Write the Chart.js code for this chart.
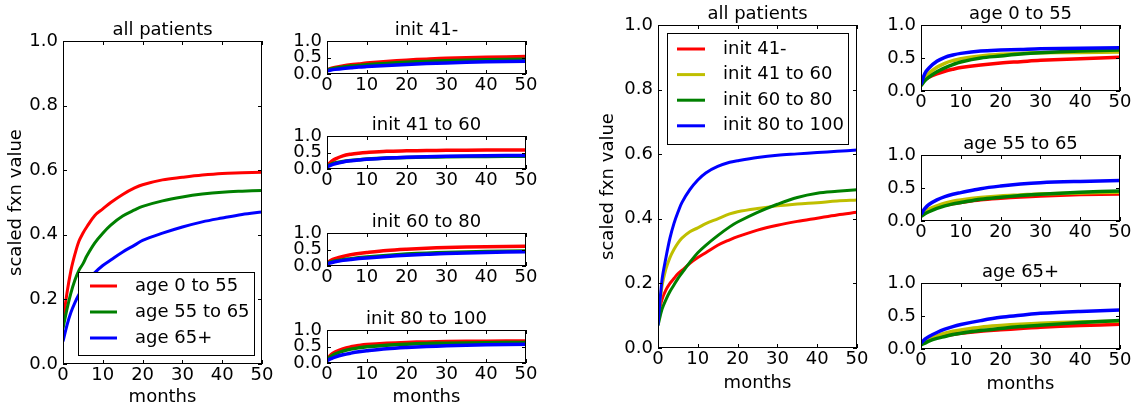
<!DOCTYPE html>
<html>
<head>
<meta charset="utf-8">
<script src="https://cdn.jsdelivr.net/npm/chart.js@4.4.1/dist/chart.umd.min.js"></script>
<style>
  html, body { margin: 0; padding: 0; background: #fff; }
  #fig { position: relative; width: 1134px; height: 408px; overflow: hidden; background: #fff; }
  #fig canvas { position: absolute; }
</style>
</head>
<body>
<div id="fig"></div>
<script>
// ---- month grids ----
const monthsMain = [0, 1, 2, 3, 4, 5, 6, 8, 10, 12, 15, 18, 20, 25, 30, 35, 40, 45, 50];
const monthsSub  = [0, 1, 2, 4, 6, 8, 10, 15, 20, 25, 30, 40, 50];

// ---- tick labels ----
const xTicks    = [0, 10, 20, 30, 40, 50];
const yTicksMain = [0, 0.2, 0.4, 0.6, 0.8, 1.0];
const yTicksSub  = [0, 0.5, 1.0];

// ---- group names ----
const ageLabels  = ['age 0 to 55', 'age 55 to 65', 'age 65+'];
const initLabels = ['init 41-', 'init 41 to 60', 'init 60 to 80', 'init 80 to 100'];
const ageColors  = ['#ff0000', '#008000', '#0000ff'];
const initColors = ['#ff0000', '#bfbf00', '#008000', '#0000ff'];

// ---- all patients, by age group (monthsMain) ----
const allAge0to55  = [0.13, 0.22, 0.29, 0.34, 0.38, 0.405, 0.425, 0.46, 0.48, 0.50, 0.525, 0.545, 0.555, 0.57, 0.578, 0.585, 0.59, 0.592, 0.594];
const allAge55to65 = [0.11, 0.17, 0.22, 0.26, 0.29, 0.31, 0.335, 0.375, 0.405, 0.43, 0.458, 0.477, 0.488, 0.505, 0.517, 0.526, 0.532, 0.535, 0.537];
const allAge65plus = [0.07, 0.12, 0.16, 0.19, 0.215, 0.235, 0.255, 0.283, 0.305, 0.322, 0.347, 0.368, 0.383, 0.405, 0.424, 0.44, 0.452, 0.463, 0.471];

// ---- all patients, by initial value (monthsMain) ----
const allInit41     = [0.10, 0.15, 0.18, 0.20, 0.215, 0.23, 0.24, 0.262, 0.28, 0.295, 0.318, 0.335, 0.345, 0.365, 0.38, 0.392, 0.402, 0.412, 0.42];
const allInit41to60 = [0.08, 0.19, 0.245, 0.28, 0.305, 0.325, 0.34, 0.36, 0.372, 0.385, 0.40, 0.415, 0.422, 0.432, 0.44, 0.446, 0.45, 0.455, 0.458];
const allInit60to80 = [0.07, 0.12, 0.15, 0.175, 0.195, 0.215, 0.232, 0.265, 0.295, 0.318, 0.348, 0.375, 0.39, 0.42, 0.445, 0.466, 0.479, 0.485, 0.49];
const allInit80to100 = [0.07, 0.21, 0.28, 0.34, 0.385, 0.42, 0.45, 0.49, 0.52, 0.542, 0.562, 0.575, 0.58, 0.59, 0.597, 0.601, 0.605, 0.609, 0.613];

// ---- per initial-value group, by age (monthsSub) ----
const i41_age0to55   = [0.12, 0.17, 0.20, 0.245, 0.28, 0.305, 0.33, 0.38, 0.42, 0.45, 0.475, 0.505, 0.53];
const i41_age55to65  = [0.11, 0.15, 0.175, 0.21, 0.24, 0.26, 0.28, 0.32, 0.355, 0.38, 0.40, 0.43, 0.45];
const i41_age65plus  = [0.09, 0.12, 0.14, 0.17, 0.19, 0.21, 0.225, 0.26, 0.29, 0.315, 0.335, 0.37, 0.39];

const i4160_age0to55  = [0.10, 0.22, 0.30, 0.40, 0.45, 0.48, 0.50, 0.535, 0.55, 0.56, 0.565, 0.572, 0.578];
const i4160_age55to65 = [0.08, 0.14, 0.18, 0.23, 0.26, 0.28, 0.30, 0.33, 0.35, 0.36, 0.37, 0.38, 0.385];
const i4160_age65plus = [0.06, 0.12, 0.16, 0.215, 0.25, 0.275, 0.295, 0.33, 0.355, 0.37, 0.385, 0.40, 0.41];

const i6080_age0to55  = [0.09, 0.17, 0.22, 0.29, 0.34, 0.38, 0.41, 0.47, 0.51, 0.54, 0.56, 0.585, 0.60];
const i6080_age55to65 = [0.08, 0.12, 0.15, 0.19, 0.22, 0.25, 0.27, 0.32, 0.36, 0.39, 0.41, 0.44, 0.455];
const i6080_age65plus = [0.06, 0.10, 0.13, 0.17, 0.20, 0.225, 0.245, 0.29, 0.325, 0.355, 0.38, 0.41, 0.43];

const i80100_age0to55  = [0.10, 0.25, 0.33, 0.43, 0.49, 0.53, 0.56, 0.60, 0.625, 0.64, 0.65, 0.66, 0.67];
const i80100_age55to65 = [0.09, 0.20, 0.27, 0.36, 0.42, 0.46, 0.49, 0.54, 0.57, 0.59, 0.60, 0.615, 0.625];
const i80100_age65plus = [0.07, 0.13, 0.18, 0.25, 0.30, 0.34, 0.37, 0.43, 0.47, 0.50, 0.52, 0.55, 0.57];

// ---- per age group, by initial value (monthsSub) ----
const a055_init41     = [0.10, 0.17, 0.21, 0.26, 0.30, 0.33, 0.355, 0.395, 0.425, 0.445, 0.465, 0.49, 0.51];
const a055_init41to60 = [0.08, 0.20, 0.27, 0.36, 0.42, 0.46, 0.49, 0.53, 0.555, 0.57, 0.578, 0.585, 0.59];
const a055_init60to80 = [0.08, 0.16, 0.21, 0.29, 0.35, 0.40, 0.44, 0.50, 0.53, 0.56, 0.58, 0.605, 0.62];
const a055_init80to100 = [0.10, 0.27, 0.35, 0.45, 0.51, 0.545, 0.57, 0.605, 0.62, 0.63, 0.64, 0.648, 0.655];

const a5565_init41     = [0.10, 0.14, 0.17, 0.21, 0.24, 0.26, 0.28, 0.32, 0.345, 0.365, 0.38, 0.40, 0.41];
const a5565_init41to60 = [0.08, 0.14, 0.18, 0.23, 0.27, 0.30, 0.32, 0.355, 0.38, 0.395, 0.41, 0.425, 0.435];
const a5565_init60to80 = [0.07, 0.11, 0.14, 0.19, 0.23, 0.26, 0.28, 0.33, 0.36, 0.385, 0.405, 0.435, 0.455];
const a5565_init80to100 = [0.10, 0.19, 0.25, 0.32, 0.37, 0.405, 0.43, 0.49, 0.53, 0.56, 0.58, 0.60, 0.615];

const a65_init41     = [0.08, 0.12, 0.15, 0.18, 0.20, 0.22, 0.24, 0.27, 0.29, 0.31, 0.33, 0.355, 0.375];
const a65_init41to60 = [0.07, 0.12, 0.15, 0.20, 0.24, 0.27, 0.29, 0.33, 0.355, 0.375, 0.39, 0.41, 0.42];
const a65_init60to80 = [0.06, 0.09, 0.12, 0.16, 0.19, 0.22, 0.24, 0.28, 0.31, 0.34, 0.36, 0.40, 0.43];
const a65_init80to100 = [0.09, 0.15, 0.19, 0.25, 0.30, 0.34, 0.37, 0.43, 0.48, 0.51, 0.54, 0.57, 0.59];

// ---- panel layout: plot rectangle [left, top, right, bottom] in page pixels ----
const panels = [
  { title: 'all patients', rect: [63, 41, 262, 364], months: monthsMain, lw: 3,
    series: [allAge0to55, allAge55to65, allAge65plus], labels: ageLabels, colors: ageColors,
    yTicks: yTicksMain, yW: 63, yTitlePad: 6, xH: 44, xTitle: true,
    legend: { x: 15, yFromBottom: 92, w: 176, h: 83, row0: 14, gap: 26, l0: 12, l1: 39, tx: 57 } },
  { title: 'init 41-', rect: [327, 41, 526, 74], months: monthsSub, lw: 3.5,
    series: [i41_age0to55, i41_age55to65, i41_age65plus], labels: ageLabels, colors: ageColors,
    yTicks: yTicksSub, yW: 40, xH: 26 },
  { title: 'init 41 to 60', rect: [327, 136, 526, 169], months: monthsSub, lw: 3.5,
    series: [i4160_age0to55, i4160_age55to65, i4160_age65plus], labels: ageLabels, colors: ageColors,
    yTicks: yTicksSub, yW: 40, xH: 26 },
  { title: 'init 60 to 80', rect: [327, 233, 526, 266], months: monthsSub, lw: 3.5,
    series: [i6080_age0to55, i6080_age55to65, i6080_age65plus], labels: ageLabels, colors: ageColors,
    yTicks: yTicksSub, yW: 40, xH: 26 },
  { title: 'init 80 to 100', rect: [327, 330, 526, 363], months: monthsSub, lw: 3.5,
    series: [i80100_age0to55, i80100_age55to65, i80100_age65plus], labels: ageLabels, colors: ageColors,
    yTicks: yTicksSub, yW: 40, xH: 45, xTitle: true },
  { title: 'all patients', rect: [658, 25, 857, 348], months: monthsMain, lw: 3,
    series: [allInit41, allInit41to60, allInit60to80, allInit80to100], labels: initLabels, colors: initColors,
    yTicks: yTicksMain, yW: 63, yTitlePad: 3, xH: 46, xTitle: true,
    legend: { x: 9, yFromTop: 8, w: 181, h: 111, row0: 16, gap: 25.6, l0: 10, l1: 38, tx: 56 } },
  { title: 'age 0 to 55', rect: [921, 25, 1120, 91], months: monthsSub, lw: 3.5,
    series: [a055_init41, a055_init41to60, a055_init60to80, a055_init80to100], labels: initLabels, colors: initColors,
    yTicks: yTicksSub, yW: 40, xH: 26 },
  { title: 'age 55 to 65', rect: [921, 155, 1120, 221], months: monthsSub, lw: 3.5,
    series: [a5565_init41, a5565_init41to60, a5565_init60to80, a5565_init80to100], labels: initLabels, colors: initColors,
    yTicks: yTicksSub, yW: 40, xH: 26 },
  { title: 'age 65+', rect: [921, 283, 1120, 349], months: monthsSub, lw: 3.5,
    series: [a65_init41, a65_init41to60, a65_init60to80, a65_init80to100], labels: initLabels, colors: initColors,
    yTicks: yTicksSub, yW: 40, xH: 46, xTitle: true }
];

const FONT = 'DejaVu Sans';
Chart.defaults.font.family = FONT;
Chart.defaults.font.size = 18;
Chart.defaults.color = '#000';

// Axes frame with inward ticks on all four sides, panel title and boxed legend.
const framePlugin = {
  id: 'frame',
  afterDatasetsDraw(chart) {
    const { ctx, chartArea: a, scales } = chart;
    const cfg = chart.options.plugins.frame;
    ctx.save();
    ctx.strokeStyle = '#000';
    ctx.lineWidth = 1;
    ctx.beginPath();
    const tl = 4;
    scales.x.ticks.forEach(t => {
      const px = Math.round(scales.x.getPixelForValue(t.value)) + 0.5;
      ctx.moveTo(px, a.bottom); ctx.lineTo(px, a.bottom - tl);
      ctx.moveTo(px, a.top); ctx.lineTo(px, a.top + tl);
    });
    scales.y.ticks.forEach(t => {
      const py = Math.round(scales.y.getPixelForValue(t.value)) + 0.5;
      ctx.moveTo(a.left, py); ctx.lineTo(a.left + tl, py);
      ctx.moveTo(a.right, py); ctx.lineTo(a.right - tl, py);
    });
    ctx.stroke();
    ctx.strokeRect(a.left + 0.5, a.top + 0.5, a.right - a.left - 1, a.bottom - a.top - 1);

    // legend
    const lg = cfg.legend;
    if (lg) {
      const bx = a.left + lg.x;
      const by = lg.yFromTop !== undefined ? a.top + lg.yFromTop : a.bottom - lg.yFromBottom;
      ctx.fillStyle = '#fff';
      ctx.fillRect(bx, by, lg.w, lg.h);
      ctx.strokeStyle = '#000';
      ctx.lineWidth = 1;
      ctx.strokeRect(bx + 0.5, by + 0.5, lg.w, lg.h);
      ctx.font = '18px "' + FONT + '"';
      ctx.textBaseline = 'middle';
      ctx.textAlign = 'left';
      chart.data.datasets.forEach((ds, i) => {
        const ry = by + lg.row0 + i * lg.gap;
        ctx.strokeStyle = ds.borderColor;
        ctx.lineWidth = 3;
        ctx.beginPath();
        ctx.moveTo(bx + lg.l0, ry); ctx.lineTo(bx + lg.l1, ry);
        ctx.stroke();
        ctx.fillStyle = '#000';
        ctx.fillText(ds.label, bx + lg.tx, ry);
      });
    }

    // panel title
    ctx.fillStyle = '#000';
    ctx.font = '18px "' + FONT + '"';
    ctx.textAlign = 'center';
    ctx.textBaseline = 'alphabetic';
    ctx.fillText(cfg.title, (a.left + a.right) / 2, a.top - 6);
    ctx.restore();
  }
};

const fig = document.getElementById('fig');
const TOP_SPACE = 30, RIGHT_SPACE = 16;

panels.forEach(p => {
  const [L, T, R, B] = p.rect;
  const cx = L - p.yW, cy = T - TOP_SPACE;
  const cw = R + RIGHT_SPACE - cx, ch = B + p.xH - cy;
  const canvas = document.createElement('canvas');
  canvas.width = cw; canvas.height = ch;
  canvas.style.left = cx + 'px'; canvas.style.top = cy + 'px';
  canvas.style.width = cw + 'px'; canvas.style.height = ch + 'px';
  fig.appendChild(canvas);

  const n = p.series.length;
  const datasets = p.series.map((vals, i) => ({
    label: p.labels[i],
    data: p.months.map((m, k) => ({ x: m, y: vals[k] })),
    borderColor: p.colors[i],
    backgroundColor: p.colors[i],
    borderWidth: p.lw,
    pointRadius: 0,
    fill: false,
    tension: 0.35,
    borderJoinStyle: 'round',
    clip: 0,
    order: n - i
  }));

  new Chart(canvas, {
    type: 'line',
    data: { datasets },
    options: {
      responsive: false,
      maintainAspectRatio: false,
      devicePixelRatio: 1,
      animation: false,
      events: [],
      layout: { padding: { left: 0, right: RIGHT_SPACE, top: TOP_SPACE, bottom: 0 } },
      plugins: {
        legend: { display: false },
        tooltip: { enabled: false },
        title: { display: false },
        frame: { title: p.title, legend: p.legend }
      },
      scales: {
        x: {
          type: 'linear', min: 0, max: 50,
          afterBuildTicks: s => { s.ticks = xTicks.map(v => ({ value: v })); },
          afterFit: s => { s.height = p.xH; },
          ticks: { autoSkip: false, maxRotation: 0, padding: 1, callback: v => String(v) },
          grid: { display: false, drawTicks: false },
          border: { display: false },
          title: { display: !!p.xTitle, text: 'months', padding: { top: 0, bottom: 0 } }
        },
        y: {
          type: 'linear', min: 0, max: 1,
          afterBuildTicks: s => { s.ticks = p.yTicks.map(v => ({ value: v })); },
          afterFit: s => { s.width = p.yW; },
          ticks: { autoSkip: false, padding: 5, callback: v => Number(v).toFixed(1) },
          grid: { display: false, drawTicks: false },
          border: { display: false },
          title: { display: p.yTitlePad !== undefined, text: 'scaled fxn value',
                   padding: { top: p.yTitlePad || 0, bottom: 0 } }
        }
      }
    },
    plugins: [framePlugin]
  });
});
</script>
</body>
</html>
